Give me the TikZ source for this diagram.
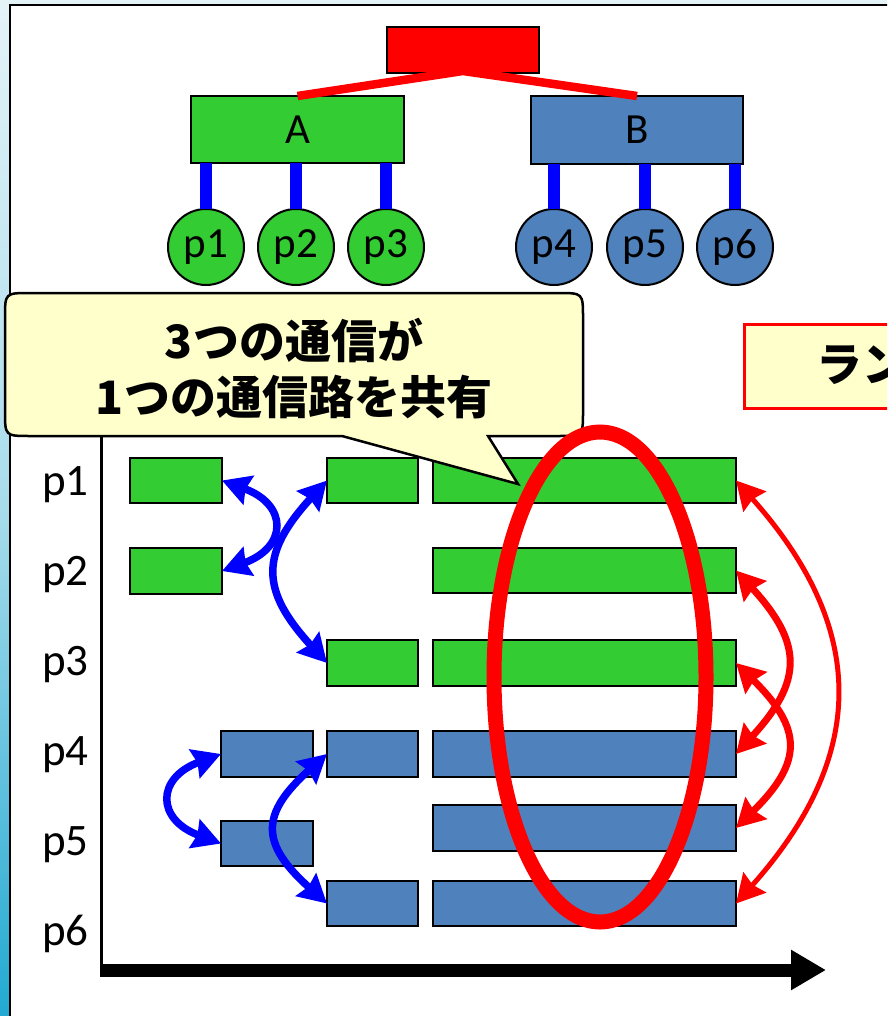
\documentclass[tikz,border=0pt]{standalone}
\usepackage{fontspec}
\setmainfont{Carlito}
\newfontfamily\jp{Noto Sans CJK JP}
\usetikzlibrary{arrows.meta,calc}
\definecolor{grn}{HTML}{33CC33}
\definecolor{blu}{HTML}{4F81BD}
\definecolor{cyl}{HTML}{FFFFCC}
\definecolor{pureblue}{HTML}{0000FF}
\definecolor{stripA}{HTML}{E4F3F8}
\definecolor{stripB}{HTML}{A8DCEB}
\definecolor{stripC}{HTML}{22A9D2}
\begin{document}
\begin{tikzpicture}[x=1pt,y=-1pt,
  gbar/.style={draw=black, line width=2.5pt, fill=grn, inner sep=0pt, outer sep=0pt, anchor=north west},
  bbar/.style={draw=black, line width=2.5pt, fill=blu, inner sep=0pt, outer sep=0pt, anchor=north west},
  topbox/.style={draw=black, line width=2pt, inner sep=0pt, outer sep=0pt, anchor=north west, font=\fontsize{43}{43}\selectfont},
  circ/.style={circle, draw=black, line width=2pt, minimum size=76pt, inner sep=0pt, outer sep=0pt, font=\fontsize{43}{43}\selectfont},
  conn/.style={pureblue, line width=12pt},
  treeline/.style={red, line width=8.5pt},
  axlabel/.style={anchor=base west, inner sep=0pt, font=\fontsize{45}{45}\selectfont},
  headtip/.style={},
  barrow/.style={pureblue, line width=7.5pt, {Stealth[length=28pt,width=30pt,inset=3pt]}-{Stealth[length=28pt,width=30pt,inset=3pt]}},
  rarrow/.style={red, line width=7pt, {Stealth[length=28pt,width=30pt,inset=3pt]}-{Stealth[length=28pt,width=30pt,inset=3pt]}},
  rarrowthin/.style={red, line width=5pt, {Stealth[length=28pt,width=30pt,inset=3pt]}-{Stealth[length=28pt,width=30pt,inset=3pt]}},
  jptext/.style={font=\jp\bfseries\fontsize{46}{56}\selectfont}
]
\useasboundingbox (0,0) rectangle (887,1016);
\clip (0,0) rectangle (887,1016);
% background strip
\fill[stripA] (0,0) rectangle (887,6);
\shade[top color=stripA, bottom color=stripC, middle color=stripB] (0,0) rectangle (11,1016);
% panel
\draw[fill=white, line width=2.5pt] (10,5) rectangle (920,1040);

% tree
\node[topbox, fill=red, minimum width=152pt, minimum height=46pt] (root) at (387,27) {};
\node[topbox, fill=grn, minimum width=213pt, minimum height=67pt] (A) at (191,96) {A};
\node[topbox, fill=blu, minimum width=212pt, minimum height=68pt] (B) at (531,96) {B};
\node[circ, fill=grn] (p1) at (206,247) {p1};
\node[circ, fill=grn] (p2) at (296,247) {p2};
\node[circ, fill=grn] (p3) at (386,247) {p3};
\node[circ, fill=blu] (p4) at (554,247) {p4};
\node[circ, fill=blu] (p5) at (645,247) {p5};
\node[circ, fill=blu] (p6) at (735,247) {p6};
\foreach \c/\b in {p1/A,p2/A,p3/A,p4/B,p5/B,p6/B}
  \draw[conn] (\c.north) -- (\c.north |- \b.south);
\draw[treeline] (A.north) -- ($(root.south)+(0,-2)$) -- (B.north);

% axis labels
\node[axlabel] (l1) at (42,495) {p1};
\node[axlabel] (l2) at (42,585) {p2};
\node[axlabel] (l3) at (42,675) {p3};
\node[axlabel] (l4) at (42,765) {p4};
\node[axlabel] (l5) at (42,855) {p5};
\node[axlabel] (l6) at (42,945) {p6};

% axes
\coordinate (ytop) at (101,428);
\coordinate (ybot) at (101,976);
\coordinate (origin) at (100,970);
\coordinate (xend) at (826,970);
\draw[line width=3pt] (ytop) -- (ybot);
\draw[line width=13pt, -{Triangle[length=35pt,width=38pt]}] (origin) -- (xend);

% bars
\node[gbar, minimum width=92pt, minimum height=45pt] (g1a) at (130,458) {};
\node[gbar, minimum width=92pt, minimum height=46pt] (g2a) at (130,548) {};
\node[gbar, minimum width=91pt, minimum height=45pt] (g1b) at (327,458) {};
\node[gbar, minimum width=91pt, minimum height=46pt] (g3b) at (327,640) {};
\node[gbar, minimum width=303pt, minimum height=45pt] (g1c) at (433,458) {};
\node[gbar, minimum width=303pt, minimum height=45pt] (g2c) at (433,548) {};
\node[gbar, minimum width=303pt, minimum height=46pt] (g3c) at (433,640) {};
\node[bbar, minimum width=92pt, minimum height=46pt] (b4a) at (221,731) {};
\node[bbar, minimum width=92pt, minimum height=45pt] (b5a) at (221,821) {};
\node[bbar, minimum width=91pt, minimum height=46pt] (b4b) at (327,731) {};
\node[bbar, minimum width=91pt, minimum height=45pt] (b6b) at (327,881) {};
\node[bbar, minimum width=303pt, minimum height=46pt] (b4c) at (433,731) {};
\node[bbar, minimum width=303pt, minimum height=46pt] (b5c) at (433,805) {};
\node[bbar, minimum width=303pt, minimum height=45pt] (b6c) at (433,881) {};

% blue arrows
\draw[barrow] (g1a.east) .. controls +(66,24) and +(66,-24) .. (g2a.east);
\draw[barrow] (g1b.west) .. controls +(-67,73) and +(-67,-73) .. (g3b.west);
\draw[barrow] (b4a.west) .. controls +(-65,24) and +(-65,-24) .. (b5a.west);
\draw[barrow] (b4b.west) .. controls +(-67,60) and +(-67,-60) .. (b6b.west);

% red arrows
\draw[rarrowthin] (g1c.east) .. controls +(132,148) and +(132,-148) .. (b6c.east);
\draw[rarrow] (g2c.east) .. controls +(67,73) and +(67,-73) .. (b4c.east);
\draw[rarrow] (g3c.east) .. controls +(67,66) and +(67,-66) .. (b5c.east);

% callout
\draw[fill=cyl, line width=2.5pt, line join=miter]
  (342,436) -- (518,484) -- (488,436) -- (558,436) .. controls (583,436) .. (583,411)
  -- (583,318) .. controls (583,293) .. (558,293) -- (30,293) .. controls (5,293) .. (5,318)
  -- (5,411) .. controls (5,436) .. (30,436) -- cycle;
\node[jptext, align=center] (msg) at (294,369) {3つの通信が\\1つの通信路を共有};

% right box
\node[draw=red, line width=3pt, fill=cyl, anchor=north west, minimum width=200pt, minimum height=84pt, inner sep=0pt] (lanbox) at (743,323) {};
\node[jptext, anchor=west, inner sep=0pt] (lan) at (816,365) {ラン};

% ellipse
\draw[red, line width=15pt] (600,677) ellipse [x radius=106pt, y radius=245pt];
\end{tikzpicture}
\end{document}
